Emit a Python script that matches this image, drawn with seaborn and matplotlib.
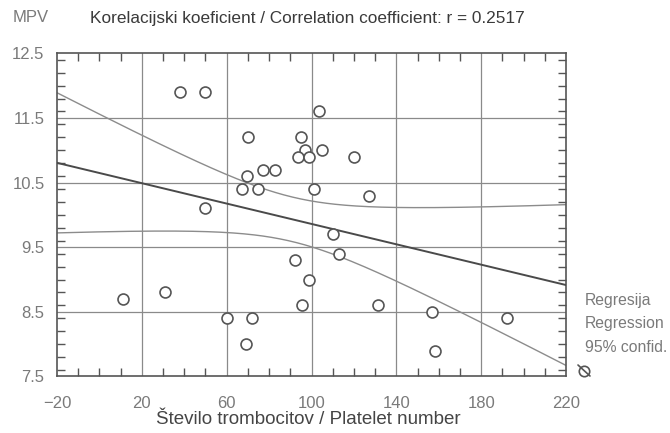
import numpy as np
import pandas as pd
import matplotlib
matplotlib.use("Agg")
import matplotlib.pyplot as plt
from matplotlib.ticker import MultipleLocator, FixedLocator
from matplotlib.lines import Line2D
import seaborn as sns

# Platelet number vs. mean platelet volume
platelets = [38, 50, 103.5, 70, 95, 97, 93.5, 99, 105, 77, 83, 69.5, 67, 75, 101,
             50, 110, 113, 92, 120, 127, 11, 31, 60, 72, 69, 99, 95.5, 131.5,
             157, 158, 192]
mpv = [11.9, 11.9, 11.6, 11.2, 11.2, 11.0, 10.9, 10.9, 11.0, 10.7, 10.7, 10.6,
       10.4, 10.4, 10.4, 10.1, 9.7, 9.4, 9.3, 10.9, 10.3, 8.7, 8.8, 8.4, 8.4,
       8.0, 9.0, 8.6, 8.6, 8.5, 7.9, 8.4]

x_ticks = [-20, 20, 60, 100, 140, 180, 220]
y_ticks = [7.5, 8.5, 9.5, 10.5, 11.5, 12.5]
legend_lines = ["Regresija", "Regression", "95% confid."]
title_text = "Korelacijski koeficient / Correlation coefficient: r = 0.2517"
band_crit = 1.62  # critical value scaling the confidence band

df = pd.DataFrame({"x": platelets, "y": mpv})

# Ordinary least squares fit with confidence band of the mean
x = df["x"].to_numpy(float)
y = df["y"].to_numpy(float)
n = len(x)
xm, ym = x.mean(), y.mean()
sxx = ((x - xm) ** 2).sum()
slope = ((x - xm) * (y - ym)).sum() / sxx
intercept = ym - slope * xm
resid = y - (intercept + slope * x)
s_err = np.sqrt((resid ** 2).sum() / (n - 2))
grid_x = np.linspace(x_ticks[0], x_ticks[-1], 241)
fit = intercept + slope * grid_x
half = band_crit * s_err * np.sqrt(1.0 / n + (grid_x - xm) ** 2 / sxx)
fit_df = pd.DataFrame({"x": grid_x, "fit": fit, "lo": fit - half, "hi": fit + half})

sns.set_theme(style="white")
plt.rcParams["font.family"] = ["Liberation Sans", "DejaVu Sans"]

fig = plt.figure(figsize=(6.7, 4.33), dpi=100)
ax = fig.add_axes([0.0851, 0.1305, 0.7597, 0.7464])

ax.set_xlim(x_ticks[0], x_ticks[-1])
ax.set_ylim(y_ticks[0], y_ticks[-1])

# grid
for gx in x_ticks[1:-1]:
    ax.axvline(gx, color="#8a8a8a", lw=0.9, zorder=1)
for gy in y_ticks[1:-1]:
    ax.axhline(gy, color="#8a8a8a", lw=0.9, zorder=1)

sns.lineplot(data=fit_df, x="x", y="hi", ax=ax, color="#8c8c8c", lw=1.0, zorder=2)
sns.lineplot(data=fit_df, x="x", y="lo", ax=ax, color="#8c8c8c", lw=1.0, zorder=2)
sns.lineplot(data=fit_df, x="x", y="fit", ax=ax, color="#4a4a4a", lw=1.4, zorder=3)

sns.scatterplot(data=df, x="x", y="y", ax=ax, marker="o", s=62,
                facecolor="white", edgecolor="#555555", linewidth=1.2, zorder=4)

ax.xaxis.set_major_locator(FixedLocator(x_ticks))
ax.yaxis.set_major_locator(FixedLocator(y_ticks))
ax.xaxis.set_minor_locator(MultipleLocator(10))
ax.yaxis.set_minor_locator(MultipleLocator(0.2))
ax.set_xticklabels(["\u221220" if v < 0 else str(v) for v in x_ticks])
ax.set_yticklabels([f"{v:.1f}" for v in y_ticks])
ax.tick_params(which="both", direction="in", top=True, right=True,
               bottom=True, left=True, color="#555555", width=1.0)
ax.tick_params(which="major", length=0)
ax.tick_params(which="minor", length=6)
ax.tick_params(axis="x", which="major", pad=14, labelsize=12, labelcolor="#7a7a7a")
ax.tick_params(axis="y", which="major", pad=9, labelsize=12, labelcolor="#7a7a7a")

for sp in ax.spines.values():
    sp.set_visible(True)
    sp.set_color("#555555")
    sp.set_linewidth(1.2)

ax.set_xlabel("")
ax.set_ylabel("")

fig.text(308 / 670, 1 - 420 / 433, "\u0160tevilo trombocitov / Platelet number",
         ha="center", va="center", fontsize=13.5, color="#454545")
fig.text(13 / 670, 1 - 18 / 433, "MPV", ha="left", va="center",
         fontsize=12, color="#7a7a7a")
fig.text(90 / 670, 1 - 18 / 433, title_text, ha="left", va="center",
         fontsize=12.4, color="#3a3a3a")

for i, line in enumerate(legend_lines):
    fig.text(585 / 670, 1 - (300 + 23.5 * i) / 433, line, ha="left", va="center",
             fontsize=11.3, color="#7a7a7a")

# small legend glyph below the legend text
fig.add_artist(Line2D([584 / 670], [1 - 371 / 433], marker="o", markersize=7.5,
                      markerfacecolor="none", markeredgecolor="#555555",
                      markeredgewidth=1.2, transform=fig.transFigure))
fig.add_artist(Line2D([578 / 670, 590 / 670], [1 - 365 / 433, 1 - 376 / 433],
                      color="#555555", lw=1.2, transform=fig.transFigure))

fig.savefig("out.png", dpi=100)
